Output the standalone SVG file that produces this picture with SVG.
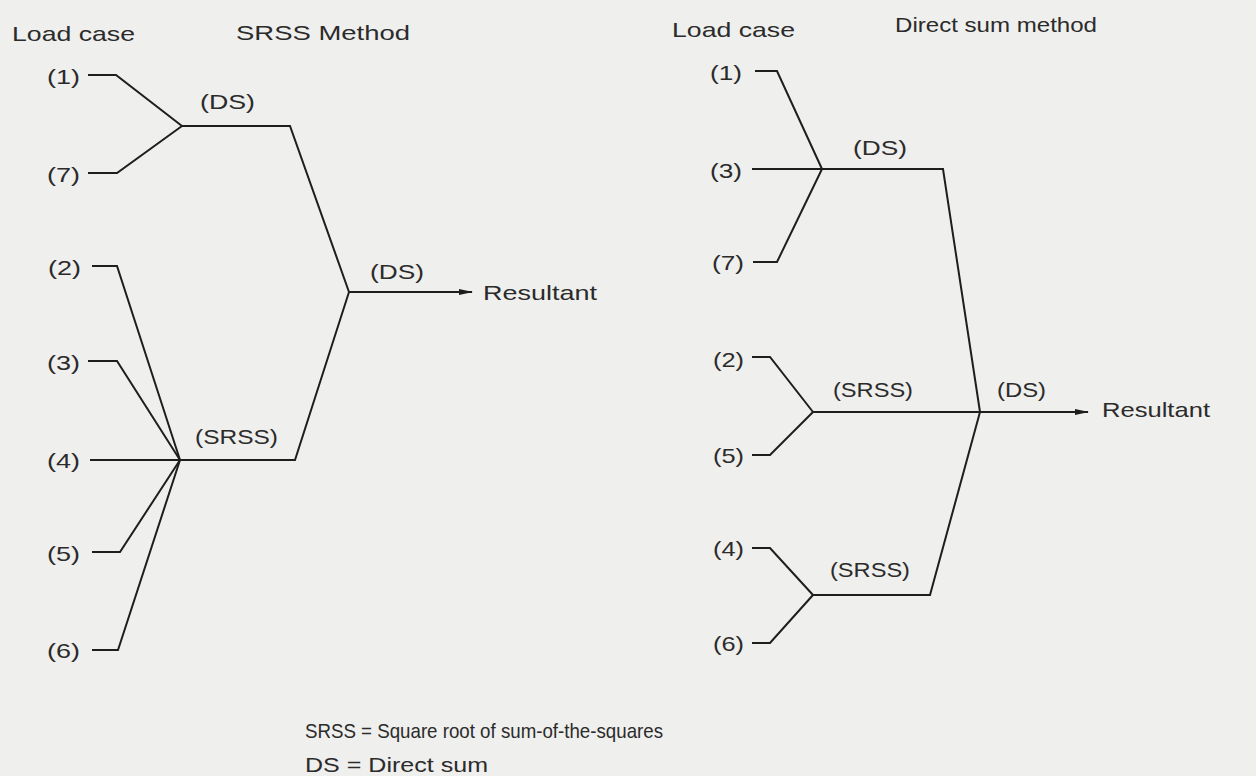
<svg xmlns="http://www.w3.org/2000/svg" width="1256" height="776" viewBox="0 0 1256 776">
<style>
text{font-family:"Liberation Sans","DejaVu Sans",Arial,sans-serif;font-size:21px;fill:#2b2b2b}
.ln{fill:none;stroke:#1e1e1e;stroke-width:2;stroke-linejoin:miter}
</style>
<defs>
<marker id="ah" markerWidth="14" markerHeight="8" refX="13" refY="4" orient="auto" markerUnits="userSpaceOnUse">
<path d="M0,1 L14,4 L0,7 Z" fill="#1e1e1e"/>
</marker>
</defs>
<rect width="1256" height="776" fill="#efefed"/>
<g id="headers">
<text x="12" y="41" textLength="123" lengthAdjust="spacingAndGlyphs">Load case</text>
<text x="236" y="40" textLength="174" lengthAdjust="spacingAndGlyphs">SRSS Method</text>
<text x="672" y="37" textLength="123" lengthAdjust="spacingAndGlyphs">Load case</text>
<text x="895" y="32" textLength="202" lengthAdjust="spacingAndGlyphs">Direct sum method</text>
</g>
<g id="left-labels">
<g id="L1"><text x="47" y="84" textLength="33" lengthAdjust="spacingAndGlyphs">(1)</text></g>
<g id="L7"><text x="47" y="182" textLength="33" lengthAdjust="spacingAndGlyphs">(7)</text></g>
<g id="L2"><text x="48" y="275" textLength="33" lengthAdjust="spacingAndGlyphs">(2)</text></g>
<g id="L3"><text x="47" y="370" textLength="33" lengthAdjust="spacingAndGlyphs">(3)</text></g>
<g id="L4"><text x="47" y="468" textLength="33" lengthAdjust="spacingAndGlyphs">(4)</text></g>
<g id="L5"><text x="47" y="561" textLength="33" lengthAdjust="spacingAndGlyphs">(5)</text></g>
<g id="L6"><text x="47" y="658" textLength="33" lengthAdjust="spacingAndGlyphs">(6)</text></g>
<g id="L-DS1"><text x="200" y="109" textLength="55" lengthAdjust="spacingAndGlyphs">(DS)</text></g>
<g id="L-SRSS"><text x="195" y="444" textLength="83" lengthAdjust="spacingAndGlyphs">(SRSS)</text></g>
<g id="L-DS2"><text x="370" y="279" textLength="54" lengthAdjust="spacingAndGlyphs">(DS)</text></g>
<g id="L-Res"><text x="483" y="300" textLength="114" lengthAdjust="spacingAndGlyphs">Resultant</text></g>
</g>
<g id="right-labels">
<g id="R1"><text x="710" y="80" textLength="32" lengthAdjust="spacingAndGlyphs">(1)</text></g>
<g id="R3"><text x="710" y="178" textLength="32" lengthAdjust="spacingAndGlyphs">(3)</text></g>
<g id="R7"><text x="712" y="270" textLength="32" lengthAdjust="spacingAndGlyphs">(7)</text></g>
<g id="R2"><text x="713" y="367" textLength="31" lengthAdjust="spacingAndGlyphs">(2)</text></g>
<g id="R5"><text x="713" y="463" textLength="31" lengthAdjust="spacingAndGlyphs">(5)</text></g>
<g id="R4"><text x="713" y="556" textLength="31" lengthAdjust="spacingAndGlyphs">(4)</text></g>
<g id="R6"><text x="713" y="651" textLength="31" lengthAdjust="spacingAndGlyphs">(6)</text></g>
<g id="R-DS1"><text x="853" y="155" textLength="54" lengthAdjust="spacingAndGlyphs">(DS)</text></g>
<g id="R-SRSS1"><text x="833" y="397" textLength="80" lengthAdjust="spacingAndGlyphs">(SRSS)</text></g>
<g id="R-DS2"><text x="997" y="397" textLength="49" lengthAdjust="spacingAndGlyphs">(DS)</text></g>
<g id="R-SRSS2"><text x="830" y="577" textLength="80" lengthAdjust="spacingAndGlyphs">(SRSS)</text></g>
<g id="R-Res"><text x="1102" y="417" textLength="108" lengthAdjust="spacingAndGlyphs">Resultant</text></g>
</g>
<g id="connectors">
<polyline class="ln" points="88,75 116,75 182,126"/>
<polyline class="ln" points="88,173 117,173 182,126"/>
<polyline class="ln" points="182,126 290,126 349,292"/>
<polyline class="ln" points="92,266 117,266 180,460"/>
<polyline class="ln" points="88,361 117,361 180,460"/>
<polyline class="ln" points="90,460 180,460"/>
<polyline class="ln" points="92,552 120,552 180,460"/>
<polyline class="ln" points="92,650 118,650 180,460"/>
<polyline class="ln" points="180,460 295,460 349,292"/>
<line class="ln" x1="349" y1="292" x2="472" y2="292" marker-end="url(#ah)"/>
<polyline class="ln" points="755,71 777,71 822,169"/>
<polyline class="ln" points="752,169 822,169"/>
<polyline class="ln" points="753,262 777,262 822,169"/>
<polyline class="ln" points="822,169 943,169 980,412"/>
<polyline class="ln" points="752,357 770,357 813,412"/>
<polyline class="ln" points="752,455 770,455 813,412"/>
<polyline class="ln" points="752,548 770,548 813,595"/>
<polyline class="ln" points="752,643 770,643 813,595"/>
<polyline class="ln" points="813,595 930,595 980,412"/>
<line class="ln" x1="813" y1="412" x2="1088" y2="412" marker-end="url(#ah)"/>
</g>
<g id="legend">
<text x="305" y="738" textLength="358" lengthAdjust="spacingAndGlyphs">SRSS = Square root of sum-of-the-squares</text>
<text x="305" y="772" textLength="183" lengthAdjust="spacingAndGlyphs">DS = Direct sum</text>
</g>
</svg>
